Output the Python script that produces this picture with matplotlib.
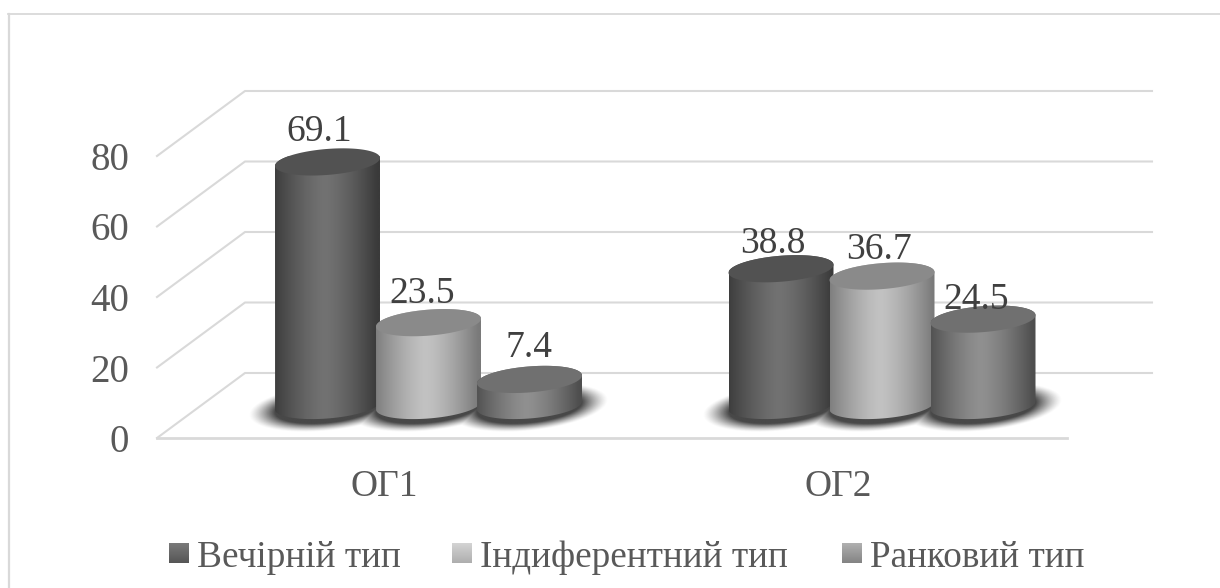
import numpy as np
import matplotlib
matplotlib.use("Agg")
import matplotlib.pyplot as plt
from matplotlib.lines import Line2D
from matplotlib.patches import Polygon
from matplotlib.colors import to_rgb

plt.rcParams['font.family'] = ['Liberation Serif', 'DejaVu Serif']

groups = ['ОГ1', 'ОГ2']
series = ['Вечірній тип', 'Індиферентний тип', 'Ранковий тип']
evening = [69.1, 38.8]
indifferent = [23.5, 36.7]
morning = [7.4, 24.5]
yticks = [0, 20, 40, 60, 80]

# edge, centre and cap shades of each cylinder
shades = [('#3a3a3a', '#727272', '#525252'),
          ('#7a7a7a', '#c2c2c2', '#8a8a8a'),
          ('#4e4e4e', '#909090', '#707070')]
legend_shades = [('#7a7a7a', '#565656'), ('#d4d4d4', '#aeaeae'), ('#b0b0b0', '#848484')]

# nudges of the value labels in pixels, per series and group
label_dx = [[-8, -8], [-6, -3], [-1, -7]]
label_gap = [[21, 16], [20, 17], [22, 10]]

W, H = 1220, 588
fig = plt.figure(figsize=(W / 100, H / 100), dpi=100)
fig.patch.set_facecolor('white')

# chart area frame, only the top and left edges show
frame = '#d9d9d9'
fig.add_artist(Line2D([9 / W, 9 / W], [0, 1 - 14 / H], color=frame, lw=1.6))
fig.add_artist(Line2D([8 / W, 1], [1 - 14 / H, 1 - 14 / H], color=frame, lw=1.3))

# axes box is the front plane of the 3-D chart
ax = fig.add_axes([157 / W, (H - 438) / H, 910 / W, 282 / H])
px_x = 1 / 453.5
px_y = 80 / 282
xlim = (-227.5 * px_x, 1 + 229 * px_x)
ax.set_xlim(*xlim)
ax.set_ylim(0, 80)
ax.patch.set_alpha(0)
for s in ax.spines.values():
    s.set_visible(False)

# how far the back wall sits behind the front plane
depth_x = 88 * px_x
depth_y = 65 * px_y
back_right = xlim[1] + 85 * px_x

for v in yticks:
    ax.plot([xlim[0], xlim[0] + depth_x, back_right], [v, v + depth_y, v + depth_y],
            color=frame, lw=1.5, clip_on=False, zorder=1)
ax.plot(xlim, [0, 0], color=frame, lw=2, clip_on=False, zorder=1)

ax.set_yticks(yticks)
ax.set_yticklabels([str(v) for v in yticks], fontsize=28, color='#595959')
ax.set_xticks([0, 1])
ax.set_xticklabels(groups, fontsize=27, color='#595959')
ax.tick_params(length=0)
ax.tick_params(axis='y', pad=20)
ax.tick_params(axis='x', pad=23)

bar_w = 105 * px_x
step = 101 * px_x
cap_b = 13 * px_y
cap_tilt = 4 * px_y
mid_x = depth_x / 2
mid_y = depth_y / 2
t = np.linspace(0, 2 * np.pi, 121)


def ellipse(cx, cy):
    a = bar_w / 2
    return cx + a * np.cos(t), cy + cap_b * np.sin(t) + cap_tilt * np.cos(t)


def draw_shadow(cx_list):
    # soft dark pool under a whole group
    x0, x1 = cx_list[0] - 0.25, cx_list[-1] + 0.25
    y0, y1 = mid_y - 14, mid_y + 14
    xx, yy = np.meshgrid(np.linspace(x0, x1, 600), np.linspace(y0, y1, 160))
    dist = np.full(xx.shape, np.inf)
    for cx in cx_list:
        u = (xx - cx) / (bar_w / 2)
        d = np.hypot(u, (yy - mid_y + 0.5 - 5 * px_y * u) / (14 * px_y * 1.12))
        dist = np.minimum(dist, d)
    alpha = np.clip((1.5 - dist) / 0.5, 0, 1) ** 1.3 * 0.9
    img = np.zeros(xx.shape + (4,))
    img[..., :3] = 0.2
    img[..., 3] = alpha
    ax.imshow(img, extent=(x0, x1, y0, y1), origin='lower', aspect='auto',
              interpolation='bilinear', zorder=2, clip_on=False)


def draw_cylinder(cx, value, colors, z):
    edge, centre, cap = colors
    a = bar_w / 2
    top = mid_y + value
    bx, by = ellipse(cx, mid_y)
    tx, ty = ellipse(cx, top)
    # silhouette: lower half of the base ellipse joined to the upper half of the top one
    outline = np.vstack([np.column_stack([bx[61:121], by[61:121]]),
                         np.column_stack([tx[0:61], ty[0:61]])])
    body = Polygon(outline, closed=True, facecolor='none', edgecolor='none', zorder=z)
    ax.add_patch(body)
    u = np.linspace(-1, 1, 256)
    weight = 1 - np.abs(u + 0.05) ** 1.4
    c0, c1 = np.array(to_rgb(edge)), np.array(to_rgb(centre))
    strip = (c0[None, :] + (c1 - c0)[None, :] * np.clip(weight, 0, 1)[:, None])[None, :, :]
    im = ax.imshow(strip, extent=(cx - a, cx + a, mid_y - 25 * px_y, top + 25 * px_y),
                   aspect='auto', interpolation='bilinear', zorder=z)
    im.set_clip_path(body)
    ax.add_patch(Polygon(np.column_stack([tx, ty]), closed=True, facecolor=cap,
                         edgecolor='none', zorder=z + 0.1, clip_on=False))


data = [evening, indifferent, morning]
for g in range(len(groups)):
    centres = [g + mid_x + (i - 1) * step for i in range(len(series))]
    draw_shadow(centres)
    for i, vals in enumerate(data):
        draw_cylinder(centres[i], vals[g], shades[i], 3 + i)
        ax.text(centres[i] + label_dx[i][g] * px_x, mid_y + vals[g] + label_gap[i][g] * px_y,
                f'{vals[g]:.1f}', ha='center', va='baseline', fontsize=27,
                color='#404040', zorder=10)

ax.set_xlim(*xlim)
ax.set_ylim(0, 80)

# legend row under the plot
legend_x = [169, 452, 842]
leg_ax = fig.add_axes([0, 0, 1, 1])
leg_ax.patch.set_alpha(0)
leg_ax.axis('off')
for x, name, (c_top, c_bot) in zip(legend_x, series, legend_shades):
    c0, c1 = np.array(to_rgb(c_top)), np.array(to_rgb(c_bot))
    ramp = c0[None, None, :] + (c1 - c0)[None, None, :] * np.linspace(0, 1, 32)[:, None, None]
    leg_ax.imshow(ramp, extent=(x, x + 20, 563, 543), aspect='auto', origin='upper')
    leg_ax.text(x + 28, 567, name, fontsize=26.8, color='#595959', va='baseline', ha='left')
leg_ax.set_xlim(0, W)
leg_ax.set_ylim(H, 0)

fig.savefig('out.png', dpi=100)
